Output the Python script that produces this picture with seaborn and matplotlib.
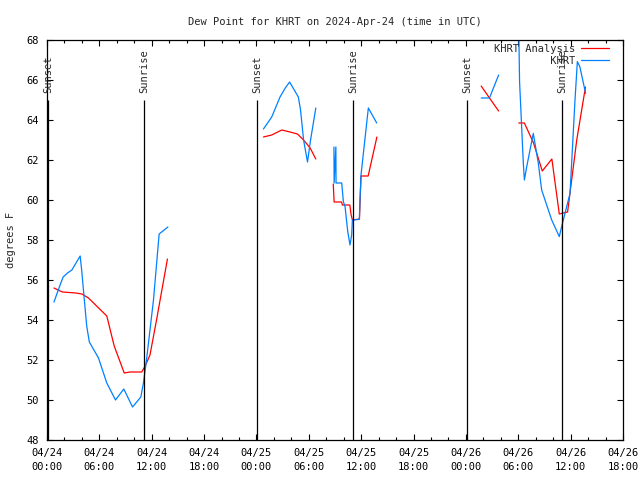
import numpy as np
import pandas as pd
import matplotlib
matplotlib.use("Agg")
import matplotlib.pyplot as plt
import seaborn as sns
from matplotlib.ticker import MultipleLocator
from matplotlib.lines import Line2D

# hours after 2024-04-24 00:00 UTC, dew point in degrees F
ana_hours_1 = [0.8, 1.5, 1.8, 3.3, 4.0, 4.75, 6.85, 7.7, 8.85, 9.5, 10.85, 11.25, 11.8, 12.55, 13.8]
ana_dewpt_1 = [55.6, 55.45, 55.4, 55.35, 55.3, 55.1, 54.2, 52.7, 51.35, 51.4, 51.4, 51.7, 52.25, 54.0, 57.05]
ana_hours_2 = [24.8, 25.75, 26.9, 27.85, 28.7, 29.4, 30.15, 30.8]
ana_dewpt_2 = [63.15, 63.25, 63.5, 63.4, 63.3, 63.0, 62.6, 62.05]
ana_hours_3 = [32.8, 32.9, 33.75, 33.85, 34.7, 34.85, 35.0, 35.8, 35.98, 36.8, 37.8]
ana_dewpt_3 = [60.8, 59.9, 59.9, 59.75, 59.75, 59.25, 59.0, 59.05, 61.2, 61.2, 63.15]
ana_hours_4 = [49.75, 50.7, 51.75]
ana_dewpt_4 = [65.7, 65.1, 64.45]
ana_hours_5 = [54.05, 54.7, 55.75, 56.75, 57.85, 58.7, 59.15, 59.65, 60.7, 61.7]
ana_dewpt_5 = [63.85, 63.85, 62.85, 61.45, 62.05, 59.3, 59.35, 59.4, 63.0, 65.65]

obs_hours_1 = [0.8, 1.5, 1.85, 2.35, 2.85, 3.8, 3.97, 4.55, 4.85, 5.9, 6.85, 7.85, 8.8, 9.8, 10.75, 11.05, 11.4, 12.2, 12.85, 13.85]
obs_dewpt_1 = [54.9, 55.75, 56.15, 56.35, 56.5, 57.2, 56.5, 53.7, 52.9, 52.1, 50.85, 50.0, 50.55, 49.65, 50.15, 50.85, 52.0, 55.0, 58.3, 58.65]
obs_hours_2 = [24.8, 25.75, 26.7, 27.3, 27.8, 28.8, 29.05, 29.4, 29.85, 30.2, 30.8]
obs_dewpt_2 = [63.55, 64.15, 65.15, 65.6, 65.9, 65.15, 64.5, 63.0, 61.9, 63.0, 64.6]
obs_hours_3 = [32.88, 32.9, 33.1, 33.12, 33.77, 33.96, 34.15, 34.46, 34.72, 34.91, 34.99, 35.79, 35.87, 35.98, 36.82, 37.78]
obs_dewpt_3 = [62.65, 60.85, 62.65, 60.85, 60.85, 59.92, 59.67, 58.42, 57.75, 58.25, 59.0, 59.03, 60.08, 61.25, 64.6, 63.85]
obs_hours_4 = [49.75, 50.7, 51.75]
obs_dewpt_4 = [65.1, 65.1, 66.25]
obs_hours_5 = [54.0, 54.15, 54.58, 54.7, 54.97, 55.72, 56.3, 56.68, 57.83, 58.7, 58.97, 59.93, 60.5, 60.77, 61.05, 61.72]
obs_dewpt_5 = [70.0, 65.9, 61.83, 61.0, 61.67, 63.33, 61.83, 60.5, 59.0, 58.17, 58.67, 60.33, 65.0, 66.92, 66.67, 65.33]

sun_hours = [0.1, 11.15, 24.1, 35.1, 48.16, 59.05]
sun_labels = ["Sunset", "Sunrise", "Sunset", "Sunrise", "Sunset", "Sunrise"]

tick_hours = list(range(0, 67, 6))
tick_labels = ["04/24\n00:00", "04/24\n06:00", "04/24\n12:00", "04/24\n18:00",
               "04/25\n00:00", "04/25\n06:00", "04/25\n12:00", "04/25\n18:00",
               "04/26\n00:00", "04/26\n06:00", "04/26\n12:00", "04/26\n18:00"]


def segments(pairs):
    frames = []
    for i, (h, v) in enumerate(pairs):
        frames.append(pd.DataFrame({"hour": h, "dewpt": v, "seg": i}))
    return pd.concat(frames, ignore_index=True)


ana = segments([(ana_hours_1, ana_dewpt_1), (ana_hours_2, ana_dewpt_2), (ana_hours_3, ana_dewpt_3),
                (ana_hours_4, ana_dewpt_4), (ana_hours_5, ana_dewpt_5)])
obs = segments([(obs_hours_1, obs_dewpt_1), (obs_hours_2, obs_dewpt_2), (obs_hours_3, obs_dewpt_3),
                (obs_hours_4, obs_dewpt_4), (obs_hours_5, obs_dewpt_5)])

sns.set_theme(style="ticks")
plt.rcParams['font.family'] = ['DejaVu Sans Mono']
plt.rcParams['font.size'] = 7.5

red = "#ff0000"
blue = "#0080ff"

fig = plt.figure(figsize=(6.4, 4.8), dpi=100)
ax = fig.add_axes([47 / 640, 40 / 480, 576 / 640, 400 / 480])

sns.lineplot(data=ana, x="hour", y="dewpt", units="seg", estimator=None, sort=False,
             color=red, lw=0.9, ax=ax, legend=False)
sns.lineplot(data=obs, x="hour", y="dewpt", units="seg", estimator=None, sort=False,
             color=blue, lw=0.9, ax=ax, legend=False)

ax.vlines(sun_hours, 48, 65, color="black", lw=0.9)
for h, lab in zip(sun_hours, sun_labels):
    ax.text(h, 65.35, lab, rotation=90, ha="center", va="bottom", fontsize=7.5)

ax.set_xlim(0, 66)
ax.set_ylim(48, 68)
ax.set_xticks(tick_hours)
ax.set_xticklabels(tick_labels, linespacing=1.5)
ax.xaxis.set_minor_locator(MultipleLocator(2))
ax.set_yticks(range(48, 69, 2))
ax.tick_params(which="both", direction="in", top=True, right=True, colors="black", labelsize=7.5)
ax.tick_params(which="major", length=4, width=0.8)
ax.tick_params(which="minor", length=2.3, width=0.8)
ax.tick_params(axis="x", pad=6)
ax.tick_params(axis="y", pad=6)
for s in ax.spines.values():
    s.set_color("black")
    s.set_linewidth(0.9)

ax.set_xlabel("")
ax.set_ylabel("degrees F", fontsize=7.5, labelpad=7)
ax.set_title("Dew Point for KHRT on 2024-Apr-24 (time in UTC)", fontsize=7.5, pad=11)

handles = [Line2D([], [], color=red, lw=0.9), Line2D([], [], color=blue, lw=0.9)]
ax.legend(handles, ["KHRT Analysis", "         KHRT"], loc="upper right",
          bbox_to_anchor=(0.976, 0.99), frameon=False, markerfirst=False,
          handlelength=2.7, handletextpad=0.6, borderpad=0, borderaxespad=0,
          labelspacing=0.2, prop={"family": "DejaVu Sans Mono", "size": 7.5})

fig.savefig("out.png", dpi=100)
